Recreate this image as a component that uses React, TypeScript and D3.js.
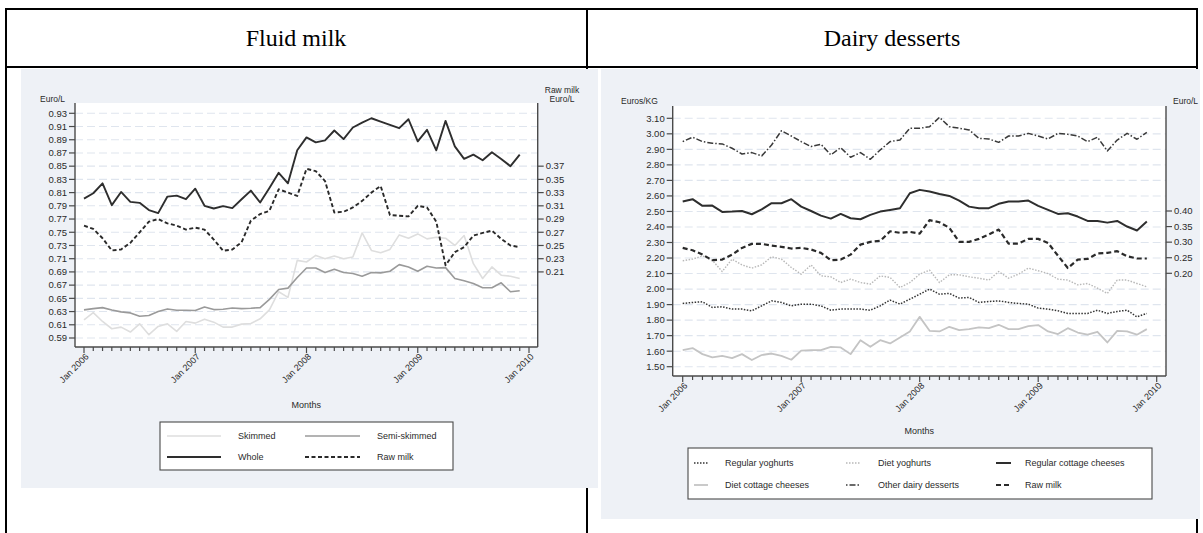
import React from 'react';
import * as d3 from 'd3';

// ---------------- DATA ----------------
const yearLabels = ['Jan 2006', 'Jan 2007', 'Jan 2008', 'Jan 2009', 'Jan 2010'];

// Fluid milk (Euro/L), monthly Jan 2006 - Dec 2009
const skimmed = [0.6175, 0.6285, 0.615, 0.604, 0.6065, 0.599, 0.6115, 0.595, 0.6075, 0.6115, 0.600, 0.615, 0.6125, 0.6185, 0.614, 0.6065, 0.6065, 0.611, 0.612, 0.619, 0.6325, 0.660, 0.6515, 0.7075, 0.705, 0.715, 0.710, 0.714, 0.710, 0.7125, 0.749, 0.7225, 0.719, 0.724, 0.746, 0.741, 0.7475, 0.740, 0.7425, 0.741, 0.730, 0.745, 0.7025, 0.680, 0.6975, 0.685, 0.6835, 0.680];
const semiSkimmed = [0.6325, 0.6345, 0.636, 0.6325, 0.6295, 0.628, 0.623, 0.624, 0.630, 0.634, 0.632, 0.632, 0.6315, 0.637, 0.633, 0.6335, 0.6355, 0.6345, 0.635, 0.636, 0.6485, 0.6635, 0.6655, 0.6815, 0.696, 0.696, 0.689, 0.694, 0.689, 0.6875, 0.6835, 0.689, 0.6885, 0.691, 0.701, 0.6975, 0.691, 0.6985, 0.696, 0.6965, 0.680, 0.6765, 0.6725, 0.666, 0.666, 0.6735, 0.660, 0.6615];
const whole = [0.801, 0.809, 0.824, 0.791, 0.811, 0.796, 0.7945, 0.7835, 0.779, 0.804, 0.8055, 0.800, 0.816, 0.790, 0.786, 0.7895, 0.7865, 0.800, 0.813, 0.795, 0.817, 0.840, 0.824, 0.874, 0.8935, 0.886, 0.889, 0.904, 0.891, 0.9085, 0.916, 0.9225, 0.9175, 0.9125, 0.9075, 0.921, 0.8875, 0.905, 0.874, 0.9185, 0.880, 0.861, 0.8675, 0.859, 0.871, 0.861, 0.850, 0.8675];
const rawMilkFluid = [0.280, 0.275, 0.261, 0.2425, 0.244, 0.254, 0.270, 0.286, 0.290, 0.2835, 0.280, 0.274, 0.277, 0.274, 0.259, 0.242, 0.244, 0.255, 0.2875, 0.2975, 0.3025, 0.335, 0.330, 0.325, 0.366, 0.3625, 0.3475, 0.300, 0.301, 0.3075, 0.3175, 0.330, 0.340, 0.296, 0.295, 0.294, 0.310, 0.3075, 0.286, 0.220, 0.240, 0.2475, 0.265, 0.269, 0.2725, 0.260, 0.250, 0.2475];

// Dairy desserts (Euros/KG), raw milk on right axis (Euro/L)
const regularYoghurts = [1.907, 1.914, 1.918, 1.882, 1.886, 1.871, 1.871, 1.86, 1.892, 1.924, 1.914, 1.892, 1.903, 1.903, 1.892, 1.864, 1.871, 1.871, 1.871, 1.864, 1.892, 1.929, 1.903, 1.935, 1.967, 2.0, 1.967, 1.972, 1.942, 1.946, 1.914, 1.92, 1.924, 1.914, 1.907, 1.903, 1.877, 1.871, 1.86, 1.843, 1.843, 1.843, 1.864, 1.843, 1.856, 1.864, 1.821, 1.843];
const dietYoghurts = [2.182, 2.193, 2.214, 2.186, 2.113, 2.193, 2.156, 2.135, 2.156, 2.208, 2.193, 2.139, 2.096, 2.156, 2.085, 2.079, 2.042, 2.064, 2.042, 2.032, 2.085, 2.075, 2.01, 2.042, 2.096, 2.122, 2.042, 2.092, 2.092, 2.079, 2.07, 2.058, 2.113, 2.07, 2.096, 2.135, 2.118, 2.10, 2.064, 2.058, 2.027, 2.036, 2.006, 1.972, 2.058, 2.058, 2.036, 2.015];
const regularCottage = [2.564, 2.579, 2.536, 2.538, 2.497, 2.499, 2.503, 2.482, 2.514, 2.553, 2.553, 2.579, 2.531, 2.503, 2.473, 2.454, 2.484, 2.456, 2.45, 2.478, 2.499, 2.51, 2.521, 2.617, 2.639, 2.628, 2.613, 2.60, 2.57, 2.531, 2.521, 2.521, 2.549, 2.564, 2.564, 2.57, 2.536, 2.51, 2.484, 2.488, 2.467, 2.439, 2.439, 2.428, 2.439, 2.403, 2.377, 2.435];
const dietCottage = [1.607, 1.62, 1.581, 1.56, 1.57, 1.555, 1.581, 1.543, 1.575, 1.585, 1.57, 1.545, 1.603, 1.607, 1.607, 1.628, 1.624, 1.581, 1.671, 1.628, 1.671, 1.65, 1.688, 1.727, 1.821, 1.731, 1.727, 1.757, 1.736, 1.742, 1.753, 1.748, 1.77, 1.742, 1.742, 1.761, 1.768, 1.727, 1.71, 1.748, 1.72, 1.706, 1.725, 1.656, 1.731, 1.727, 1.706, 1.742];
const otherDesserts = [2.95, 2.978, 2.95, 2.939, 2.935, 2.907, 2.87, 2.879, 2.858, 2.928, 3.02, 2.986, 2.95, 2.918, 2.933, 2.864, 2.911, 2.849, 2.879, 2.836, 2.896, 2.95, 2.96, 3.036, 3.036, 3.046, 3.106, 3.046, 3.036, 3.025, 2.971, 2.967, 2.945, 2.986, 2.986, 3.003, 2.986, 2.967, 3.003, 2.997, 2.986, 2.95, 2.978, 2.89, 2.96, 3.003, 2.965, 3.01];
const rawMilkDesserts = [0.2815, 0.274, 0.26, 0.242, 0.244, 0.26, 0.2815, 0.2945, 0.2945, 0.289, 0.285, 0.2795, 0.2815, 0.2765, 0.2655, 0.242, 0.244, 0.26, 0.292, 0.301, 0.304, 0.335, 0.33, 0.333, 0.3275, 0.3705, 0.364, 0.346, 0.301, 0.301, 0.3105, 0.3245, 0.3405, 0.2955, 0.2955, 0.3105, 0.3105, 0.2975, 0.2565, 0.217, 0.244, 0.246, 0.2635, 0.2655, 0.271, 0.255, 0.2475, 0.2475];

const fluidLeftTicks = [0.59, 0.61, 0.63, 0.65, 0.67, 0.69, 0.71, 0.73, 0.75, 0.77, 0.79, 0.81, 0.83, 0.85, 0.87, 0.89, 0.91, 0.93];
const fluidRightTicks = [0.21, 0.23, 0.25, 0.27, 0.29, 0.31, 0.33, 0.35, 0.37];
const dessertLeftTicks = [1.5, 1.6, 1.7, 1.8, 1.9, 2.0, 2.1, 2.2, 2.3, 2.4, 2.5, 2.6, 2.7, 2.8, 2.9, 3.0, 3.1];
const dessertRightTicks = [0.2, 0.25, 0.3, 0.35, 0.4];

// ---------------- DRAWING ----------------
const SANS = '"Liberation Sans", Arial, Helvetica, sans-serif';
const SERIF = '"Liberation Serif", "Times New Roman", serif';
const AXIS = '#4a4a4a';
const TXT = '#2a2a2a';
const GRID = '#dfe5ee';
const BG = '#eef1f6';

type Style = { stroke: string; width: number; dash?: string };
type Ser = { name: string; values: number[]; right?: boolean; style: Style };

interface PanelCfg {
  bg: [number, number, number, number];
  plot: [number, number, number, number];
  xRange: [number, number];
  yL: d3.ScaleLinear<number, number>;
  yR: d3.ScaleLinear<number, number>;
  leftTicks: number[];
  rightTicks: number[];
  fmt: (v: number) => string;
  leftTitle: string;
  leftTitleX: number;
  titleY: number;
  rightTitle: string[];
  rightTitleX: number;
  rightTitleAnchor: 'start' | 'middle';
  rightTitleY: number;
  monthsY: number;
  series: Ser[];
  legendBox: [number, number, number, number];
  legendRows: number[];
  legendSymX: [number, number][];
  legendTextX: number[];
  legendCols: number;
}

function Panel({ c }: { c: PanelCfg }) {
  const [px0, py0, px1, py1] = c.plot;
  const nMonths = 48;
  const x = d3.scaleLinear().domain([0, nMonths]).range(c.xRange);
  const monthTicks = d3.range(0, nMonths + 1);
  const [bx0, by0, bx1, by1] = c.bg;
  const [lx0, ly0, lx1, ly1] = c.legendBox;
  return (
    <g>
      <rect x={bx0} y={by0} width={bx1 - bx0} height={by1 - by0} fill={BG} />
      <rect x={px0} y={py0} width={px1 - px0} height={py1 - py0} fill="#ffffff" />
      {c.leftTicks.map((t) => (
        <line key={'g' + t} x1={px0} x2={px1} y1={c.yL(t)} y2={c.yL(t)} stroke={GRID} strokeWidth={1.1} strokeDasharray="8 4" />
      ))}
      {c.series.map((s) => {
        const y = s.right ? c.yR : c.yL;
        const gen = d3.line<number>().x((_, i) => x(i)).y((d) => y(d));
        return (
          <path key={s.name} d={gen(s.values) || ''} fill="none" stroke={s.style.stroke} strokeWidth={s.style.width}
            strokeDasharray={s.style.dash} strokeLinejoin="round" />
        );
      })}
      {/* axes */}
      <line x1={px0} x2={px0} y1={py0} y2={py1} stroke={AXIS} strokeWidth={1.4} />
      <line x1={px1} x2={px1} y1={py0} y2={py1} stroke={AXIS} strokeWidth={1.4} />
      <line x1={px0} x2={px1} y1={py1} y2={py1} stroke={AXIS} strokeWidth={1.4} />
      {c.leftTicks.map((t) => (
        <g key={'l' + t}>
          <line x1={px0 - 6} x2={px0} y1={c.yL(t)} y2={c.yL(t)} stroke={AXIS} strokeWidth={1.2} />
          <text x={px0 - 8} y={c.yL(t)} dy="0.35em" textAnchor="end" fontSize={9.5} fontFamily={SANS} fill={TXT}>{c.fmt(t)}</text>
        </g>
      ))}
      {c.rightTicks.map((t) => (
        <g key={'r' + t}>
          <line x1={px1} x2={px1 + 6} y1={c.yR(t)} y2={c.yR(t)} stroke={AXIS} strokeWidth={1.2} />
          <text x={px1 + 8} y={c.yR(t)} dy="0.35em" textAnchor="start" fontSize={9.5} fontFamily={SANS} fill={TXT}>{c.fmt(t)}</text>
        </g>
      ))}
      {monthTicks.map((m) => {
        const major = m % 12 === 0;
        return (
          <g key={'m' + m}>
            <line x1={x(m)} x2={x(m)} y1={py1} y2={py1 + (major ? 6 : 4)} stroke={AXIS} strokeWidth={1.2} />
            {major && (
              <text transform={`translate(${x(m) + 3},${py1 + 8}) rotate(-45)`} textAnchor="end" dy="0.35em"
                fontSize={9} fontFamily={SANS} fill={TXT}>{yearLabels[m / 12]}</text>
            )}
          </g>
        );
      })}
      <text x={c.leftTitleX} y={c.titleY} fontSize={8.5} fontFamily={SANS} fill={TXT}>{c.leftTitle}</text>
      {c.rightTitle.map((t, i) => (
        <text key={t} x={c.rightTitleX} y={c.rightTitleY + i * 9} textAnchor={c.rightTitleAnchor} fontSize={8.5} fontFamily={SANS} fill={TXT}>{t}</text>
      ))}
      <text x={(px0 + px1) / 2} y={c.monthsY} textAnchor="middle" fontSize={9} fontFamily={SANS} fill={TXT}>Months</text>
      {/* legend */}
      <rect x={lx0} y={ly0} width={lx1 - lx0} height={ly1 - ly0} fill="#ffffff" stroke={AXIS} strokeWidth={1.1} />
      {c.series.map((s, i) => {
        const col = i % c.legendCols;
        const row = Math.floor(i / c.legendCols);
        const yy = c.legendRows[row];
        const [sx0, sx1] = c.legendSymX[col];
        return (
          <g key={'lg' + s.name}>
            <line x1={sx0} x2={sx1} y1={yy} y2={yy} stroke={s.style.stroke} strokeWidth={s.style.width} strokeDasharray={s.style.dash} />
            <text x={c.legendTextX[col]} y={yy} dy="0.35em" fontSize={9} fontFamily={SANS} fill={TXT}>{s.name}</text>
          </g>
        );
      })}
    </g>
  );
}

export default function App() {
  const fluid: PanelCfg = {
    bg: [21, 69, 598, 488],
    plot: [75, 103, 537.7, 347],
    xRange: [84, 529],
    yL: d3.scaleLinear().domain([0.59, 0.93]).range([338, 113.3]),
    yR: d3.scaleLinear().domain([0.11, 0.45]).range([338, 113.3]),
    leftTicks: fluidLeftTicks,
    rightTicks: fluidRightTicks,
    fmt: d3.format('.2f'),
    leftTitle: 'Euro/L',
    leftTitleX: 40,
    titleY: 102,
    rightTitle: ['Raw milk', 'Euro/L'],
    rightTitleX: 562,
    rightTitleAnchor: 'middle',
    rightTitleY: 93,
    monthsY: 408,
    series: [
      { name: 'Skimmed', values: skimmed, style: { stroke: '#dedede', width: 1.6 } },
      { name: 'Semi-skimmed', values: semiSkimmed, style: { stroke: '#9a9a9a', width: 1.6 } },
      { name: 'Whole', values: whole, style: { stroke: '#2e2e2e', width: 1.9 } },
      { name: 'Raw milk', values: rawMilkFluid, right: true, style: { stroke: '#2a2a2a', width: 1.9, dash: '4 2.5' } },
    ],
    legendBox: [160, 422, 453, 470],
    legendRows: [436, 457],
    legendSymX: [[167, 221], [305, 360]],
    legendTextX: [238, 377],
    legendCols: 2,
  };
  const desserts: PanelCfg = {
    bg: [601, 69, 1200, 519],
    plot: [672.7, 106, 1166, 376],
    xRange: [682.7, 1156.7],
    yL: d3.scaleLinear().domain([1.5, 3.1]).range([366.7, 118.3]),
    yR: d3.scaleLinear().domain([0.2, 0.4]).range([273.3, 211]),
    leftTicks: dessertLeftTicks,
    rightTicks: dessertRightTicks,
    fmt: d3.format('.2f'),
    leftTitle: 'Euros/KG',
    leftTitleX: 621,
    titleY: 104,
    rightTitle: ['Euro/L'],
    rightTitleX: 1173,
    rightTitleAnchor: 'start',
    rightTitleY: 104,
    monthsY: 434,
    series: [
      { name: 'Regular yoghurts', values: regularYoghurts, style: { stroke: '#333333', width: 1.5, dash: '1.5 1.5' } },
      { name: 'Diet yoghurts', values: dietYoghurts, style: { stroke: '#b8b8b8', width: 1.4, dash: '1.5 1.5' } },
      { name: 'Regular cottage cheeses', values: regularCottage, style: { stroke: '#2e2e2e', width: 2 } },
      { name: 'Diet cottage cheeses', values: dietCottage, style: { stroke: '#c4c4c4', width: 1.8 } },
      { name: 'Other dairy desserts', values: otherDesserts, style: { stroke: '#3a3a3a', width: 1.5, dash: '1.5 2 6 2' } },
      { name: 'Raw milk', values: rawMilkDesserts, right: true, style: { stroke: '#2a2a2a', width: 2.2, dash: '5 3' } },
    ],
    legendBox: [688, 448, 1152, 499],
    legendRows: [463, 485],
    legendSymX: [[694, 708], [846, 861], [996, 1011]],
    legendTextX: [725, 878, 1025],
    legendCols: 3,
  };

  return (
    <div style={{ position: 'absolute', left: 0, top: 0 }}>
      <svg width={1203} height={533} style={{ display: 'block', background: '#ffffff' }}>
        {/* table */}
        <g stroke="#000" strokeWidth={2}>
          <line x1={5} x2={1198} y1={9} y2={9} />
          <line x1={5} x2={1198} y1={67} y2={67} />
          <line x1={6} x2={6} y1={8} y2={533} />
          <line x1={587} x2={587} y1={8} y2={533} />
          <line x1={1197} x2={1197} y1={8} y2={533} />
        </g>
        <text x={296} y={46} textAnchor="middle" fontSize={24} fontFamily={SERIF} fill="#000">Fluid milk</text>
        <text x={892} y={46} textAnchor="middle" fontSize={24} fontFamily={SERIF} fill="#000">Dairy desserts</text>
        <Panel c={fluid} />
        <Panel c={desserts} />
      </svg>
    </div>
  );
}
